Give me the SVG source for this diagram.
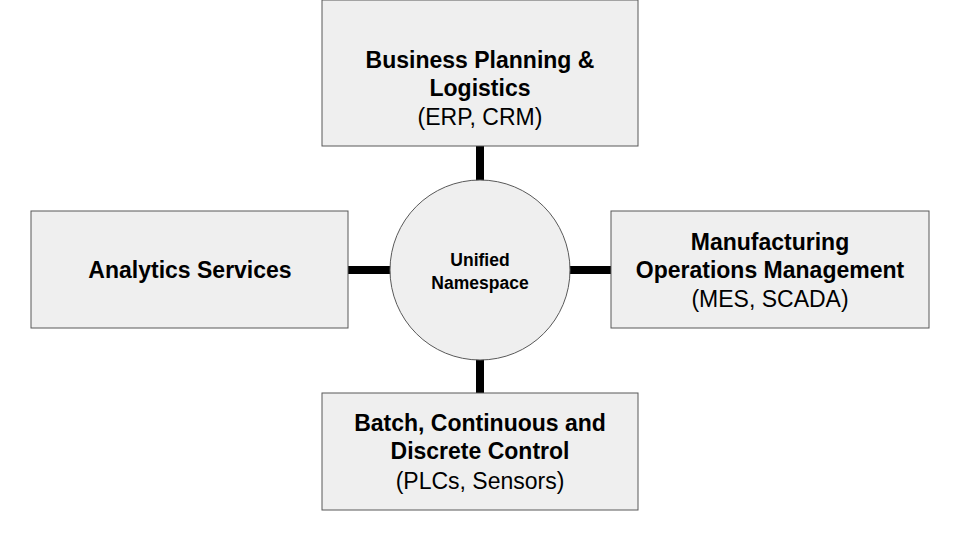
<svg xmlns="http://www.w3.org/2000/svg" width="960" height="540" viewBox="0 0 960 540">
<style>
.box{fill:#efefef;stroke:#595959;stroke-width:1}
.b{font-family:"Liberation Sans",Arial,sans-serif;font-weight:bold;font-size:23px;fill:#000;text-anchor:middle}
.r{font-family:"Liberation Sans",Arial,sans-serif;font-size:23px;fill:#000;text-anchor:middle}
.s{font-family:"Liberation Sans",Arial,sans-serif;font-weight:bold;font-size:17.5px;fill:#000;text-anchor:middle}
.c{stroke:#000;stroke-width:8}
</style>
<rect width="960" height="540" fill="#fff"/>
<g id="connectors">
<line class="c" x1="480" y1="146" x2="480" y2="183"/>
<line class="c" x1="348" y1="270" x2="391" y2="270"/>
<line class="c" x1="569" y1="270" x2="611" y2="270"/>
<line class="c" x1="480" y1="357" x2="480" y2="393"/>
</g>
<g id="top">
<rect class="box" x="322" y="0" width="316" height="146"/>
<text class="b" x="480" y="68">Business Planning &amp;</text>
<text class="b" x="480" y="96">Logistics</text>
<text class="r" x="480" y="125">(ERP, CRM)</text>
</g>
<g id="left">
<rect class="box" x="31" y="211" width="317" height="117"/>
<text class="b" x="190" y="278">Analytics Services</text>
</g>
<g id="right">
<rect class="box" x="611" y="211" width="318" height="117"/>
<text class="b" x="770" y="250">Manufacturing</text>
<text class="b" x="770" y="278">Operations Management</text>
<text class="r" x="770" y="307">(MES, SCADA)</text>
</g>
<g id="bottom">
<rect class="box" x="322" y="393" width="316" height="117"/>
<text class="b" x="480" y="431">Batch, Continuous and</text>
<text class="b" x="480" y="459">Discrete Control</text>
<text class="r" x="480" y="489">(PLCs, Sensors)</text>
</g>
<g id="center">
<circle cx="480" cy="270" r="90" fill="#efefef" stroke="#595959"/>
<text class="s" x="480" y="266">Unified</text>
<text class="s" x="480" y="289">Namespace</text>
</g>
</svg>
